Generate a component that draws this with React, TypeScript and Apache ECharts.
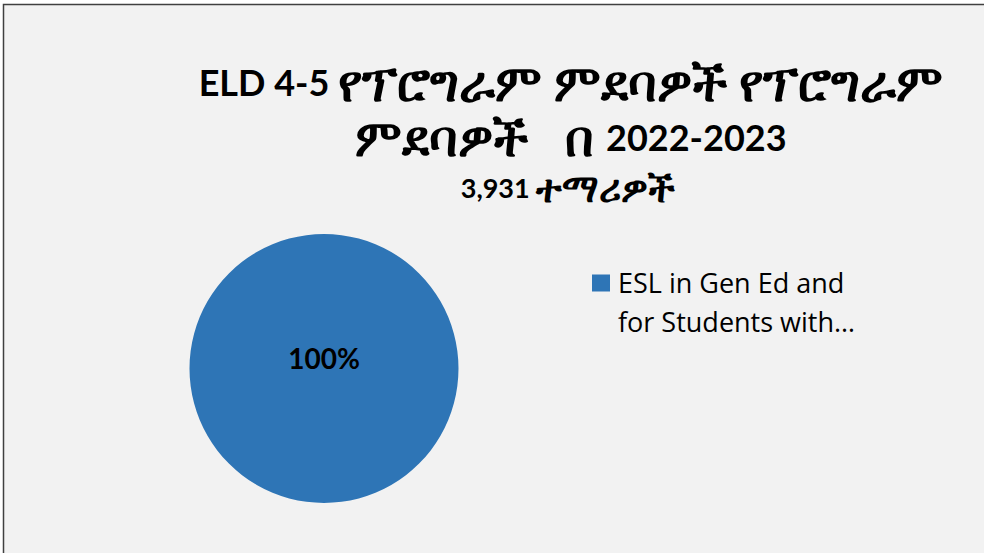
import React, { useEffect, useRef } from "react";
import * as echarts from "echarts";

const titleLine1 = ["ELD 4-5 ", "የፕሮግራም ምደባዎች የፕሮግራም"];
const titleLine2 = ["ምደባዎች   በ ", "2022-2023"];
const subtitle = ["3,931 ", "ተማሪዎች"];
const categories = ["ESL in Gen Ed and\nfor Students with…"];
const values = [3931];
const percentLabels = ["100%"];
const colors = ["#2e75b6"];

export default function App() {
  const ref = useRef<HTMLDivElement>(null);
  useEffect(() => {
    if (!ref.current) return;
    const chart = echarts.init(ref.current, null, { renderer: "svg" });
    const font = "Lato, 'Noto Sans', 'DejaVu Sans', sans-serif";
    const lfont = "'Open Sans', 'Noto Sans', sans-serif";
    chart.setOption({
      animation: false,
      backgroundColor: "#ffffff",
      color: colors,
      graphic: [
        {
          type: "rect",
          shape: { x: 3.5, y: 4.5, width: 1000, height: 600 },
          style: { fill: "#f2f2f2", stroke: "#404040", lineWidth: 1.5 },
          z: -10,
        },
      ],
      title: [
        {
          text:
            "{l|" + titleLine1[0] + "}{e|" + titleLine1[1] + "}\n{e|" + titleLine2[0] + "}{l|" + titleLine2[1] + "}",
          left: 571,
          top: 54,
          padding: 0,
          textAlign: "center",
          textStyle: {
            rich: {
              l: { fontFamily: font, fontSize: 36, fontWeight: "bold", color: "#000", lineHeight: 55 },
              e: { fontFamily: font, fontSize: 50, fontWeight: "bold", color: "#000", lineHeight: 55 },
            },
          },
        },
        {
          text: "{l|" + subtitle[0] + "}{e|" + subtitle[1] + "}",
          left: 568,
          top: 167,
          padding: 0,
          textAlign: "center",
          textStyle: {
            rich: {
              l: { fontFamily: font, fontSize: 27, fontWeight: "bold", color: "#000", lineHeight: 40 },
              e: { fontFamily: font, fontSize: 38, fontWeight: "bold", color: "#000", lineHeight: 40 },
            },
          },
        },
      ],
      legend: {
        data: categories,
        left: 592,
        top: 263,
        padding: 0,
        orient: "vertical",
        icon: "path://M0,0h18v17h-18z M0,54.9h0.1v0.1h-0.1z",
        itemWidth: 18,
        itemHeight: 55,
        textStyle: { fontFamily: lfont, fontSize: 27, color: "#000", lineHeight: 39, padding: [0, 0, 0, 3] },
      },
      series: [
        {
          type: "pie",
          center: [324, 368.5],
          radius: [0, 134.5],
          startAngle: 90,
          data: categories.map((c, i) => ({ name: c, value: values[i] })),
          label: {
            position: "center",
            formatter: (p: any) => "{a|" + percentLabels[p.dataIndex] + "}\n{s| }",
            rich: {
              a: { fontFamily: font, fontSize: 28, fontWeight: "bold", color: "#000", lineHeight: 30 },
              s: { fontSize: 10, lineHeight: 22 },
            },
          },
          labelLine: { show: false },
          emphasis: { disabled: true },
          itemStyle: { borderWidth: 0 },
        },
      ],
    });
    return () => chart.dispose();
  }, []);
  return <div ref={ref} style={{ position: "fixed", left: 0, top: 0, width: 984, height: 553 }} />;
}
